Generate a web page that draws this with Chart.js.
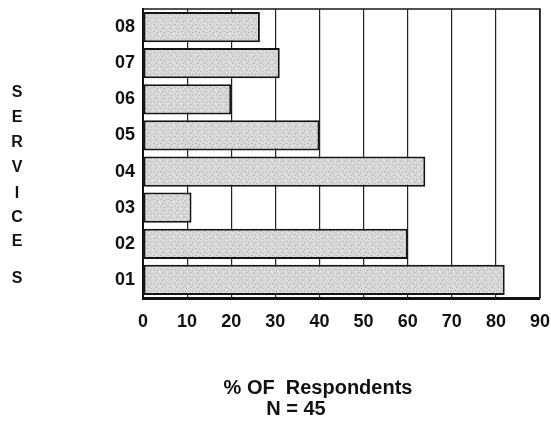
<!DOCTYPE html>
<html>
<head>
<meta charset="utf-8">
<script src="https://cdn.jsdelivr.net/npm/chart.js@4/dist/chart.umd.min.js"></script>
<style>
  html, body { margin: 0; padding: 0; background: #fff; }
  #wrap { position: relative; width: 551px; height: 426px; }
</style>
</head>
<body>
<div id="wrap"><canvas id="c" width="551" height="426"></canvas></div>
<script>
const categories = ['01', '02', '03', '04', '05', '06', '07', '08'];
const respondentsPct = [82, 60, 11, 64, 40, 20, 31, 26.5];
const xTicks = [0, 10, 20, 30, 40, 50, 60, 70, 80, 90];
const yTitleLetters = ['S', 'E', 'R', 'V', 'I', 'C', 'E', 'S'];
const xTitleLines = ['% OF  Respondents', 'N = 45'];

// deterministic stipple texture
function makePattern() {
  const p = document.createElement('canvas');
  p.width = 7; p.height = 7;
  const g = p.getContext('2d');
  g.fillStyle = '#d8d8d8';
  g.fillRect(0, 0, 7, 7);
  const dots = [[1,0,'#b0b0b0'],[4,1,'#bebebe'],[0,3,'#bababa'],[3,4,'#aeaeae'],[6,3,'#c4c4c4'],[2,6,'#bcbcbc'],[5,5,'#ececec'],[2,2,'#e8e8e8'],[6,0,'#e4e4e4']];
  dots.forEach(([x,y,c]) => { g.fillStyle = c; g.fillRect(x, y, 1, 1); });
  return g.createPattern(p, 'repeat');
}
const ctx0 = document.getElementById('c').getContext('2d');
const stipple = makePattern();

const FONT = '"Liberation Sans", Arial, sans-serif';

const framePlugin = {
  id: 'frame',
  afterDraw(chart) {
    const { ctx, chartArea: a } = chart;
    ctx.save();
    ctx.strokeStyle = '#1a1a1a';
    ctx.lineWidth = 1.5;
    ctx.beginPath();
    ctx.moveTo(a.left, a.top);
    ctx.lineTo(a.right, a.top);
    ctx.lineTo(a.right, a.bottom);
    ctx.stroke();
    // titles
    ctx.fillStyle = '#111';
    ctx.textAlign = 'center';
    ctx.textBaseline = 'middle';
    ctx.font = 'bold 16px ' + FONT;
    const ys = [93, 118, 143, 168, 194, 218, 242, 279];
    yTitleLetters.forEach((l, i) => ctx.fillText(l, 17, ys[i]));
    ctx.font = 'bold 20px ' + FONT;
    ctx.fillText(xTitleLines[0], 318, 388);
    ctx.fillText(xTitleLines[1], 296, 409);
    ctx.restore();
  }
};

new Chart(ctx0, {
  type: 'bar',
  data: {
    labels: categories,
    datasets: [{
      data: respondentsPct,
      backgroundColor: stipple,
      borderColor: '#151515',
      borderWidth: 2,
      borderSkipped: false,
      barPercentage: 0.84,
      categoryPercentage: 1.0
    }]
  },
  options: {
    indexAxis: 'y',
    responsive: false,
    animation: false,
    devicePixelRatio: 1,
    layout: { padding: { left: 0, right: 11, top: 9, bottom: 0 } },
    plugins: { legend: { display: false }, tooltip: { enabled: false } },
    scales: {
      x: {
        min: 0, max: 90,
        afterBuildTicks(s) { s.ticks = xTicks.map(v => ({ value: v })); },
        afterFit(s) { s.height = 128; s.paddingLeft = 0; s.paddingRight = 0; },
        grid: { color: '#222', lineWidth: 1.2, drawTicks: false },
        border: { color: '#111', width: 3 },
        ticks: { color: '#111', padding: 13, font: { family: FONT, size: 18, weight: 'bold' } }
      },
      y: {
        reverse: true,
        afterFit(s) { s.width = 143; s.paddingTop = 0; s.paddingBottom = 0; },
        grid: { display: false, drawTicks: false },
        border: { color: '#111', width: 2 },
        ticks: { color: '#111', padding: 8, font: { family: FONT, size: 18, weight: 'bold' } }
      }
    }
  },
  plugins: [framePlugin]
});
</script>
</body>
</html>
